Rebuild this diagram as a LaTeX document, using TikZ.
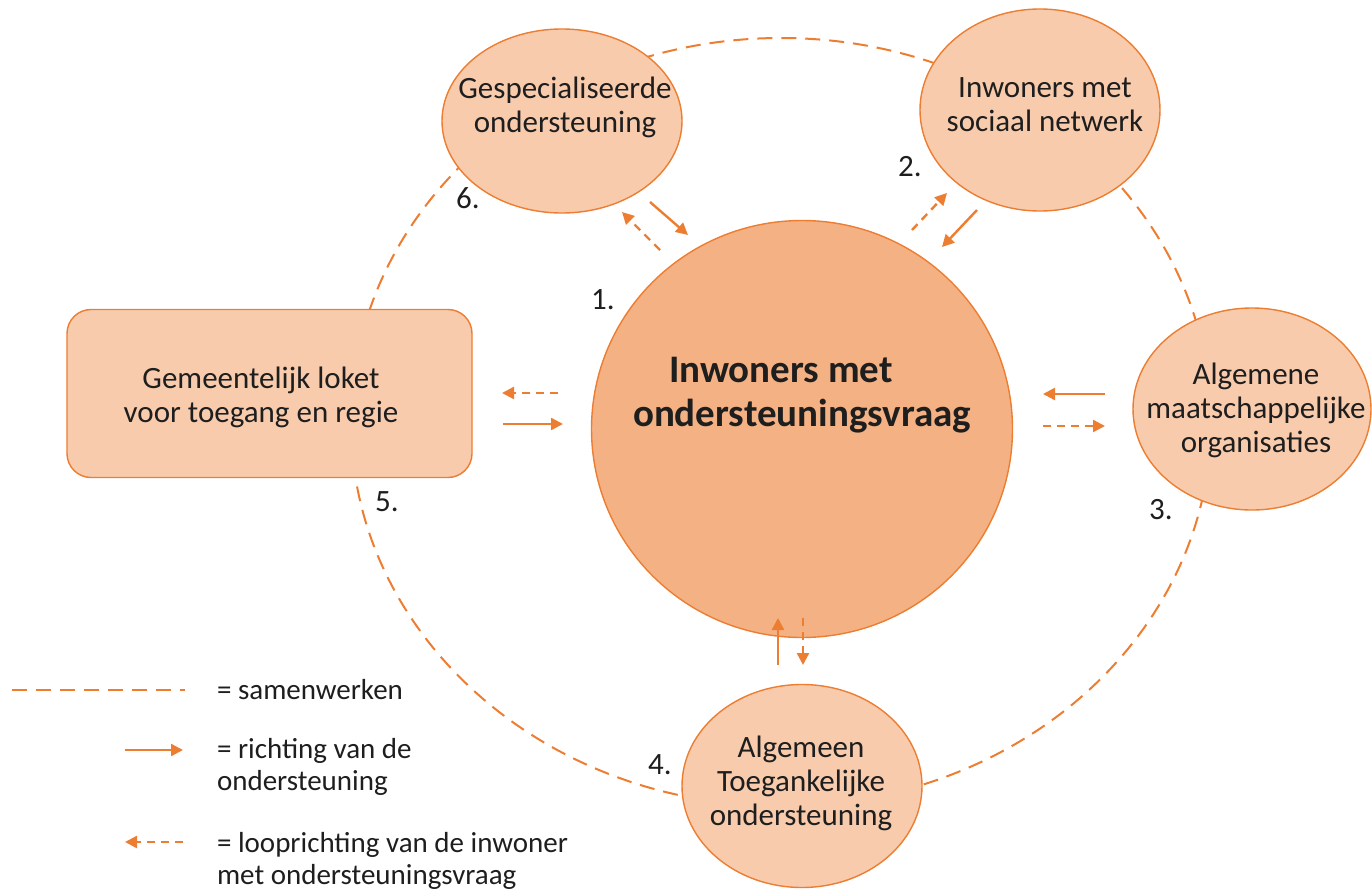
\documentclass[tikz,border=0pt]{standalone}
\usepackage{fontspec}
\setmainfont{Carlito}
\usetikzlibrary{arrows.meta,shapes.geometric}
\definecolor{oline}{HTML}{ED7D31}
\definecolor{lfill}{HTML}{F8CBAD}
\definecolor{cfill}{HTML}{F4B183}
\definecolor{txt}{HTML}{1E1E1E}
\begin{document}
\begin{tikzpicture}[x=0.5pt,y=-0.5pt,
  bub/.style={ellipse, draw=oline, fill=lfill, line width=0.7pt, inner sep=0pt},
  lbl/.style={align=center, font=\fontsize{15.5}{17}\selectfont, text=txt},
  num/.style={font=\fontsize{15.5}{17}\selectfont, text=txt},
  legtxt/.style={align=left, anchor=west, font=\fontsize{14.5}{16}\selectfont, text=txt},
  ring/.style={draw=oline, line width=1pt, dash pattern=on 7.5pt off 4.5pt},
  sup/.style={draw=oline, line width=1.2pt, -{Triangle[length=6pt,width=6pt]}},
  walk/.style={draw=oline, line width=1.2pt, dash pattern=on 4pt off 3pt, -{Triangle[length=6pt,width=6pt]}},
]
\useasboundingbox (0,0) rectangle (1372,889);

% samenwerken ring
\coordinate (rc) at (781,422);
\draw[ring] (rc) ellipse [x radius=430, y radius=384];

% nodes
\node[bub, minimum width=120pt, minimum height=92pt] (gesp) at (562,121) {};
\node[bub, minimum width=120pt, minimum height=101pt] (soc) at (1040,110) {};
\node[bub, minimum width=119pt, minimum height=101pt] (alg) at (1252,409) {};
\node[bub, minimum width=120pt, minimum height=101.5pt] (toeg) at (802,786) {};
\node[draw=oline, fill=lfill, line width=0.7pt, rounded corners=12pt,
      minimum width=202.5pt, minimum height=84pt] (loket) at (269.5,393.5) {};
\node[ellipse, draw=oline, fill=cfill, line width=0.7pt, inner sep=0pt,
      minimum width=210.5pt, minimum height=208.5pt] (main) at (802,429) {};

% labels
\node[lbl] (tgesp) at (565,107) {Gespecialiseerde\\ondersteuning};
\node[lbl] (tsoc) at (1045,105) {Inwoners met\\sociaal netwerk};
\node[lbl] (talg) at (1256,410) {Algemene\\maatschappelijke\\organisaties};
\node[lbl] (ttoeg) at (801,783) {Algemeen\\Toegankelijke\\ondersteuning};
\node[lbl] (tloket) at (261,397) {Gemeentelijk loket\\voor toegang en regie};
\node[align=center, font=\bfseries\fontsize{19.5}{22}\selectfont, text=txt] (tmain) at (802,395)
  {Inwoners met\hphantom{\hspace{21pt}}\\ondersteuningsvraag};

% numbers
\node[num] (n1) at (603,300) {1.};
\node[num] (n2) at (910,167) {2.};
\node[num] (n3) at (1161,510) {3.};
\node[num] (n4) at (660,765) {4.};
\node[num] (n5) at (387,502) {5.};
\node[num] (n6) at (468,198) {6.};

% arrow end points
\coordinate (g1a) at (650,202); \coordinate (g1b) at (688,235);
\coordinate (g2a) at (660,250); \coordinate (g2b) at (622,212);
\coordinate (s1a) at (912,230); \coordinate (s1b) at (947,193);
\coordinate (s2a) at (977,210); \coordinate (s2b) at (942,247);
\coordinate (l1a) at (558,393); \coordinate (l1b) at (502,393);
\coordinate (l2a) at (503,424); \coordinate (l2b) at (563,424);
\coordinate (a1a) at (1105,394); \coordinate (a1b) at (1043,394);
\coordinate (a2a) at (1043,426); \coordinate (a2b) at (1105,426);
\coordinate (t1a) at (778,665); \coordinate (t1b) at (778,618);
\coordinate (t2a) at (803,618); \coordinate (t2b) at (803,665);

\draw[sup] (g1a) -- (g1b);
\draw[walk] (g2a) -- (g2b);
\draw[walk] (s1a) -- (s1b);
\draw[sup] (s2a) -- (s2b);
\draw[walk] (l1a) -- (l1b);
\draw[sup] (l2a) -- (l2b);
\draw[sup] (a1a) -- (a1b);
\draw[walk] (a2a) -- (a2b);
\draw[sup] (t1a) -- (t1b);
\draw[walk] (t2a) -- (t2b);

% legend
\coordinate (k1a) at (12,690); \coordinate (k1b) at (185,690);
\coordinate (k2a) at (125,750); \coordinate (k2b) at (183,750);
\coordinate (k3a) at (183,842); \coordinate (k3b) at (125,842);
\draw[ring] (k1a) -- (k1b);
\draw[sup] (k2a) -- (k2b);
\draw[walk] (k3a) -- (k3b);
\node[legtxt] (lg1) at (210,690) {= samenwerken};
\node[legtxt] (lg2) at (210,767) {= richting van de\\ondersteuning};
\node[legtxt] (lg3) at (210,861) {= looprichting van de inwoner\\met ondersteuningsvraag};
\end{tikzpicture}
\end{document}
